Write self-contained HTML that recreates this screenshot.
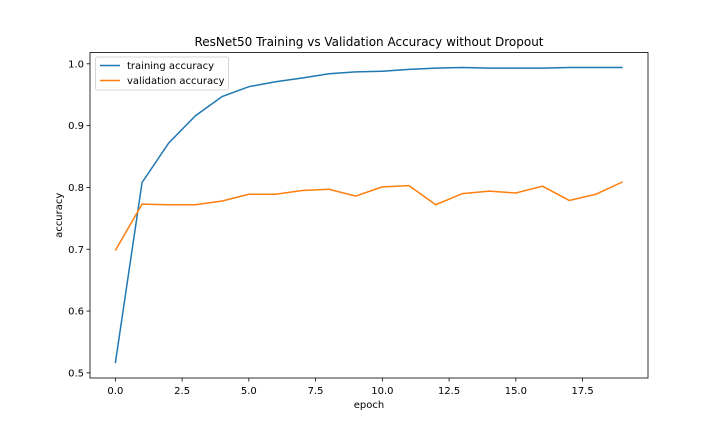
<!DOCTYPE html>
<html><head><meta charset="utf-8"><style>
body{margin:0;background:#fff;}
svg text{font-family:"DejaVu Sans","Liberation Sans",sans-serif;fill:#000;}
</style></head><body>
<svg id="chart" width="720" height="432" xmlns="http://www.w3.org/2000/svg">
<text x="369" y="46" font-size="12" text-anchor="middle">ResNet50 Training vs Validation Accuracy without Dropout</text>
<g id="plot"></g>
</svg>
<script>
const epochs=[0,1,2,3,4,5,6,7,8,9,10,11,12,13,14,15,16,17,18,19];
const training=[0.516,0.808,0.872,0.916,0.947,0.963,0.971,0.977,0.984,0.987,0.988,0.991,0.993,0.994,0.993,0.993,0.993,0.994,0.994,0.994];
const validation=[0.698,0.773,0.772,0.772,0.778,0.789,0.789,0.795,0.797,0.786,0.801,0.803,0.772,0.790,0.794,0.791,0.802,0.779,0.789,0.809];
const xTicks=[0,2.5,5,7.5,10,12.5,15,17.5];
const xTickLabels=["0.0","2.5","5.0","7.5","10.0","12.5","15.0","17.5"];
const yTicks=[0.5,0.6,0.7,0.8,0.9,1.0];
const yTickLabels=["0.5","0.6","0.7","0.8","0.9","1.0"];

const L=90,R=648,T=52.5,B=378;
const xmin=-0.95,xmax=19.95;
const ymin=0.4917,ymax=1.0183;
const X=v=>L+(v-xmin)/(xmax-xmin)*(R-L);
const Y=v=>B-(v-ymin)/(ymax-ymin)*(B-T);
const NS="http://www.w3.org/2000/svg";
const g=document.getElementById('plot');
function mk(t,a,p){const e=document.createElementNS(NS,t);for(const k in a)e.setAttribute(k,a[k]);(p||g).appendChild(e);return e;}

function line(vals,color,name){
  const d=vals.map((v,i)=>(i?'L':'M')+X(epochs[i]).toFixed(2)+','+Y(v).toFixed(2)).join('');
  const p=mk('path',{d:d,fill:'none',stroke:color,'stroke-width':1.5});
  
  
}
line(training,'#1f77b4','training-accuracy-line');
line(validation,'#ff7f0e','validation-accuracy-line');

const frame=mk('rect',{x:L,y:T,width:R-L,height:B-T,fill:'none',stroke:'#000','stroke-width':0.8});



xTicks.forEach((v,i)=>{
  const x=X(v);
  mk('line',{x1:x,x2:x,y1:B,y2:B+3.5,stroke:'#000','stroke-width':0.8});
  const t=mk('text',{x:x,y:B+16,'font-size':10,'text-anchor':'middle'});
  t.textContent=xTickLabels[i];
  
  
});
yTicks.forEach((v,i)=>{
  const y=Y(v);
  mk('line',{x1:L-3.5,x2:L,y1:y,y2:y,stroke:'#000','stroke-width':0.8});
  const t=mk('text',{x:L-6,y:y+3.6,'font-size':10,'text-anchor':'end'});
  t.textContent=yTickLabels[i];
  
  
});
const xl=mk('text',{x:(L+R)/2,y:B+30,'font-size':10,'text-anchor':'middle'});
xl.textContent='epoch';


const yl=mk('text',{x:0,y:0,'font-size':10,'text-anchor':'middle',transform:`translate(62,${(T+B)/2}) rotate(-90)`});
yl.textContent='accuracy';



const lg=mk('g',{});


mk('rect',{x:95.5,y:57,width:133,height:33,rx:2,fill:'#fff','fill-opacity':0.8,stroke:'#ccc','stroke-width':0.8},lg);
[['training accuracy','#1f77b4',65.5],['validation accuracy','#ff7f0e',80.5]].forEach(([lab,c,y])=>{
  mk('line',{x1:100,x2:120,y1:y,y2:y,stroke:c,'stroke-width':1.5},lg);
  const t=mk('text',{x:127,y:y+3.5,'font-size':10},lg);
  t.textContent=lab;
  
  
});
</script>
</body></html>
